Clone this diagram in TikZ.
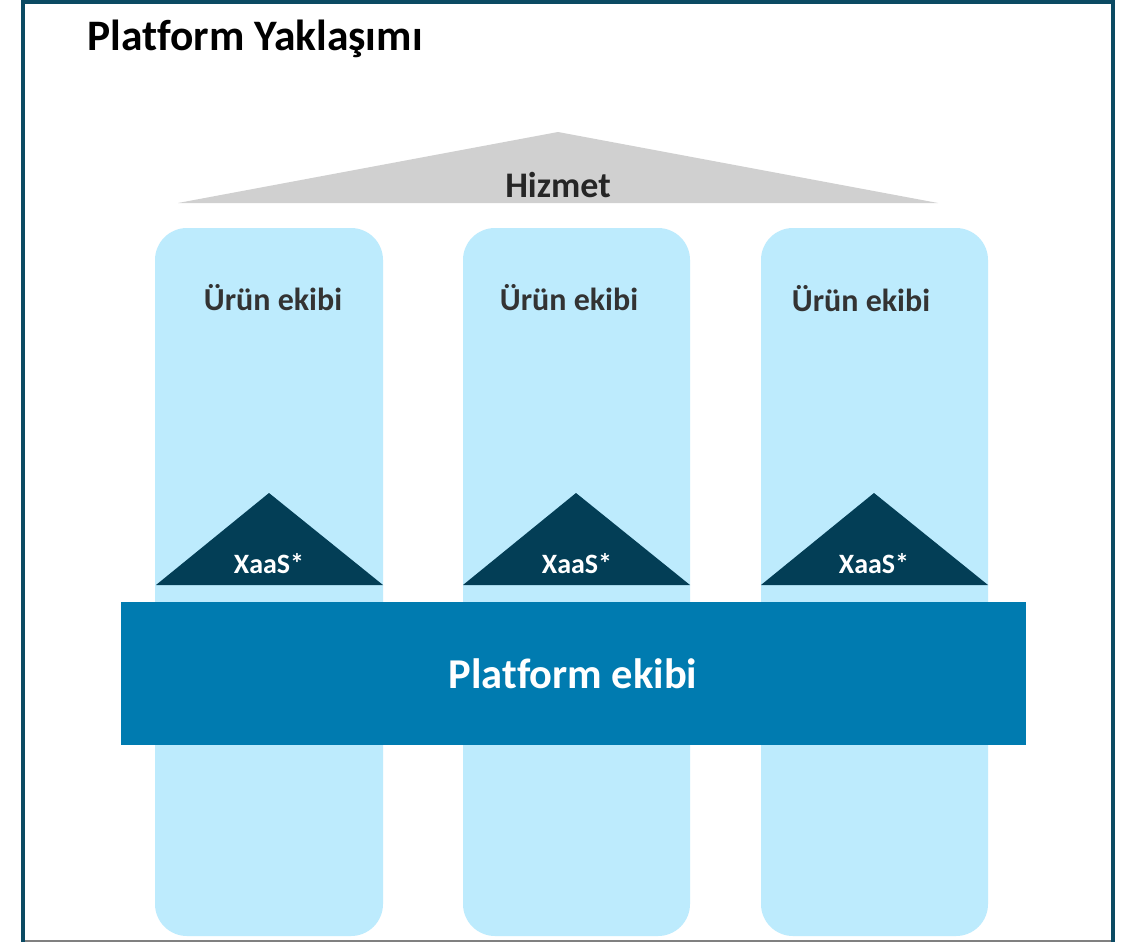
\documentclass[tikz,border=0pt]{standalone}
\usepackage{fontspec}
\setmainfont{Carlito}[Ligatures=CommonOff]
\definecolor{pillarc}{HTML}{BDEBFD}
\definecolor{barc}{HTML}{007BB0}
\definecolor{triac}{HTML}{033E56}
\definecolor{roofc}{HTML}{D0D0D0}
\definecolor{framec}{HTML}{0B4A63}
\definecolor{teamc}{HTML}{333333}
\tikzset{
  pillar/.style={fill=pillarc, rounded corners=32pt},
  xaas/.style={fill=triac},
  teamtxt/.style={anchor=base, text=teamc, font=\fontsize{32}{38}\selectfont\bfseries, inner sep=0pt},
  xaastxt/.style={anchor=base, text=white, font=\fontsize{28}{34}\selectfont\bfseries, inner sep=0pt},
}
\begin{document}
\begin{tikzpicture}[x=1pt,y=-1pt]
\useasboundingbox (0,0) rectangle (1128,942);
\fill[white] (0,0) rectangle (1128,942);
% frame
\draw[framec, line width=4pt] (23,944) -- (23,2) -- (1113,2) -- (1113,944);
\draw[gray, line width=1.2pt] (25,941) -- (1111,941);
% roof
\fill[roofc] (178,203) -- (558,132) -- (938,203) -- cycle;
\node[anchor=base, inner sep=0pt, font=\fontsize{36}{42}\selectfont\bfseries, text=black!85] (hizmet) at (558,197) {Hizmet};
% title
\node[anchor=base west, inner sep=0pt, font=\fontsize{43.5}{50}\selectfont\bfseries] (title) at (87,51) {Platform Yaklaşımı};
% pillars
\fill[pillar] (155,228) rectangle (383,936);
\fill[pillar] (463,228) rectangle (690,936);
\fill[pillar] (761,228) rectangle (988,936);
\node[teamtxt] (t1) at (273,310) {Ürün ekibi};
\node[teamtxt] (t2) at (569,310) {Ürün ekibi};
\node[teamtxt] (t3) at (861,311) {Ürün ekibi};
% xaas triangles
\fill[xaas] (156,585) -- (269,493) -- (383,585) -- cycle;
\fill[xaas] (463,585) -- (576,493) -- (690,585) -- cycle;
\fill[xaas] (761,585) -- (874,493) -- (988,585) -- cycle;
\node[xaastxt] (x1) at (269,573) {XaaS*};
\node[xaastxt] (x2) at (577,573) {XaaS*};
\node[xaastxt] (x3) at (874,573) {XaaS*};
% platform bar
\fill[barc] (121,602) rectangle (1026,745);
\node[anchor=base, inner sep=0pt, text=white, font=\fontsize{42.5}{48}\selectfont\bfseries] (plat) at (573,688) {Platform ekibi};
\end{tikzpicture}
\end{document}
